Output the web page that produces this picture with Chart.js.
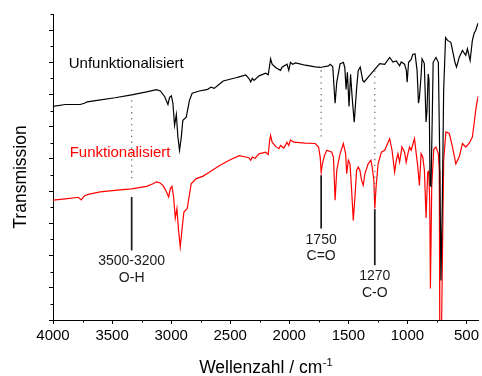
<!DOCTYPE html>
<html>
<head>
<meta charset="utf-8">
<script src="https://cdn.jsdelivr.net/npm/chart.js@4"></script>
<style>
  body { margin: 0; background: #fff; }
  canvas { display: block; }
</style>
</head>
<body>
<canvas id="ir" width="482" height="376"></canvas>
<script>
// Wellenzahl (cm-1) und Transmission (willk. Einheiten) der beiden Spektren
var schwarzWn = [4000,3895,3769,3735,3710,3626,3475,3334,3208,3124,
	3091,3055,3027,3013,2998,2985,2971,2956,2943,2929,
	2914,2901,2872,2845,2822,2761,2691,2662,2635,2593,
	2559,2452,2424,2368,2340,2326,2313,2298,2256,2200,
	2178,2166,2158,2145,2116,2074,2061,2019,2004,1990,
	1971,1948,1920,1864,1780,1738,1668,1654,1632,1612,
	1598,1570,1542,1530,1519,1508,1494,1481,1467,1450,
	1430,1416,1399,1378,1366,1332,1276,1234,1192,1150,
	1122,1094,1066,1052,1024,1009,1002,990,968,954,
	935,918,906,898,884,876,857,842,834,824,
	817,808,800,790,782,758,738,727,716,704,
	693,677,660,632,618,598,584,561,534,506,
	492,469,450,435,422,408,400];
var schwarzT = [66.3,66.9,66.9,67.3,67.7,68.2,69.0,69.9,70.8,71.5,
	71.1,69.4,66.9,69.1,69.6,67.3,60.4,63.8,57.0,52.7,
	56.7,62.0,63.0,68.2,70.4,71.1,71.6,72.3,71.9,73.2,
	74.2,75.2,75.5,76.1,74.9,73.9,75.0,74.4,75.8,76.6,
	76.1,79.1,81.1,79.4,78.4,77.5,78.5,79.4,77.5,80.0,
	79.4,79.8,79.6,79.1,78.6,78.4,78.9,79.4,78.7,67.3,
	73.8,79.5,80.0,78.4,71.6,76.9,66.3,76.3,68.8,61.4,
	71.9,77.5,78.5,74.4,73.9,75.4,77.8,79.6,79.4,81.5,
	80.1,80.4,78.9,80.1,79.4,77.5,73.8,80.0,80.9,82.5,
	82.6,77.5,67.3,69.2,75.9,81.1,79.7,61.5,65.1,76.4,
	74.4,41.8,41.5,62.0,80.0,81.5,80.0,52.7,12.3,37.2,
	71.3,87.7,86.8,86.2,83.7,80.1,78.5,81.6,83.7,82.2,
	84.2,80.6,86.8,89.0,89.9,91.5,92.2];

var rotWn = [4000,3895,3786,3760,3735,3702,3601,3433,3334,3208,
	3153,3124,3097,3069,3040,3021,3007,2993,2979,2965,
	2951,2937,2923,2909,2892,2864,2830,2788,2733,2677,
	2593,2508,2424,2368,2340,2326,2313,2290,2256,2200,
	2178,2166,2158,2145,2116,2088,2074,2046,2019,2004,
	1990,1962,1864,1780,1752,1738,1730,1719,1702,1682,
	1640,1626,1612,1598,1570,1542,1523,1514,1500,1486,
	1472,1458,1444,1430,1416,1402,1388,1374,1360,1332,
	1309,1298,1284,1276,1265,1248,1220,1192,1150,1130,
	1108,1094,1080,1066,1046,1024,1010,996,982,968,
	940,912,898,884,870,856,842,828,819,811,
	805,794,777,758,738,730,726,711,693,674,
	645,618,590,561,534,506,478,450,435,422,
	408,400];
var rotT = [37.2,37.6,38.1,37.3,38.5,39.0,39.8,40.4,40.7,41.5,
	42.3,42.9,42.6,41.8,39.8,38.2,40.8,41.5,38.2,31.6,
	34.6,27.8,22.7,27.8,33.5,34.6,42.3,43.9,44.6,45.9,
	47.9,49.6,51.0,50.6,50.3,49.6,50.6,50.2,51.6,52.1,
	51.4,55.8,57.3,55.2,53.9,53.2,54.2,53.4,55.2,54.2,
	55.9,55.2,54.9,54.8,53.7,50.5,45.8,48.5,51.1,52.7,
	52.1,50.5,37.2,46.5,51.6,54.8,51.6,45.4,49.6,48.5,
	40.3,30.9,38.2,46.5,47.5,46.5,43.4,41.8,45.4,48.5,
	49.6,47.5,43.4,34.6,41.3,48.5,52.1,52.7,56.3,52.7,
	45.9,49.6,51.6,49.0,53.7,52.1,49.0,51.6,53.7,52.7,
	56.3,47.5,41.8,51.6,50.6,46.5,31.7,45.8,46.2,37.2,
	9.8,41.2,53.0,53.7,51.6,46.5,-3,-3,49.6,58.4,
	57.9,53.7,48.5,50.7,54.8,53.7,54.8,56.8,61.0,65.1,
	68.2,69.5];

var xTicks = [4000,3500,3000,2500,2000,1500,1000,500];
var yTicks = [0,10,20,30,40,50,60,70,80,90];
var xMinorTicks = [3750,3250,2750,2250,1750,1250,750];
var yMinorTicks = [5,15,25,35,45,55,65,75,85,95];

// Banden-Markierungen
var bandWn = [3334, 1730, 1276];
var bandZeile1 = ['3500-3200', '1750', '1270'];
var bandZeile2 = ['O-H', 'C=O', 'C-O'];
var punktVon = [68.2, 77.5, 77.5];
var punktBis = [43.4, 56.8, 37.2];
var strichVon = [38.2, 44.9, 34.4];
var strichBis = [21.6, 28.4, 17.0];
var textY1 = [18.2, 24.9, 13.6];
var textY2 = [13.1, 19.8, 8.4];

var schrift = "'Liberation Sans', Arial, sans-serif";
Chart.defaults.font.family = schrift;

var beschriftung = {
	id: 'beschriftung',
	afterDraw: (chart) => {
		var ctx = chart.ctx;
		var x = chart.scales.x;
		var y = chart.scales.y;
		var area = chart.chartArea;
		ctx.save();

		// kleine Striche
		ctx.strokeStyle = '#000';
		ctx.lineWidth = 1;
		ctx.beginPath();
		xMinorTicks.forEach(v => {
			var px = Math.round(x.getPixelForValue(v)) + 0.5;
			ctx.moveTo(px, area.bottom);
			ctx.lineTo(px, area.bottom + 2.5);
		});
		yMinorTicks.forEach(v => {
			var py = Math.round(y.getPixelForValue(v)) + 0.5;
			ctx.moveTo(area.left, py);
			ctx.lineTo(area.left - 2.5, py);
		});
		ctx.stroke();

		// gepunktete Linien
		ctx.strokeStyle = '#666';
		ctx.lineWidth = 1.2;
		ctx.setLineDash([1.3, 4.6]);
		bandWn.forEach((wn, i) => {
			var px = x.getPixelForValue(wn);
			ctx.beginPath();
			ctx.moveTo(px, y.getPixelForValue(punktVon[i]));
			ctx.lineTo(px, y.getPixelForValue(punktBis[i]));
			ctx.stroke();
		});

		// durchgezogene Linien
		ctx.setLineDash([]);
		ctx.strokeStyle = '#1a1a1a';
		ctx.lineWidth = 1.7;
		bandWn.forEach((wn, i) => {
			var px = x.getPixelForValue(wn);
			ctx.beginPath();
			ctx.moveTo(px, y.getPixelForValue(strichVon[i]));
			ctx.lineTo(px, y.getPixelForValue(strichBis[i]));
			ctx.stroke();
		});

		// Bandentexte
		ctx.fillStyle = '#1a1a1a';
		ctx.font = '14px ' + schrift;
		ctx.textAlign = 'center';
		ctx.textBaseline = 'middle';
		bandWn.forEach((wn, i) => {
			var px = x.getPixelForValue(wn);
			ctx.fillText(bandZeile1[i], px, y.getPixelForValue(textY1[i]));
			ctx.fillText(bandZeile2[i], px, y.getPixelForValue(textY2[i]));
		});

		// Kurvenbeschriftung
		ctx.font = '15px ' + schrift;
		ctx.textAlign = 'left';
		ctx.textBaseline = 'alphabetic';
		ctx.fillStyle = '#000';
		ctx.fillText('Unfunktionalisiert', x.getPixelForValue(3867), y.getPixelForValue(78.1));
		ctx.fillStyle = '#ff0000';
		ctx.fillText('Funktionalisiert', x.getPixelForValue(3859), y.getPixelForValue(50.7));

		// Achsentitel
		ctx.fillStyle = '#000';
		ctx.font = '17.5px ' + schrift;
		var haupt = 'Wellenzahl / cm';
		var w1 = ctx.measureText(haupt).width;
		ctx.font = '11px ' + schrift;
		var w2 = ctx.measureText('-1').width;
		var start = (area.left + area.right) / 2 - (w1 + w2) / 2;
		ctx.font = '17.5px ' + schrift;
		ctx.fillText(haupt, start, 373);
		ctx.font = '11px ' + schrift;
		ctx.fillText('-1', start + w1 + 0.5, 366);

		ctx.font = '17.5px ' + schrift;
		ctx.translate(26, 177);
		ctx.rotate(-Math.PI / 2);
		ctx.textAlign = 'center';
		ctx.fillText('Transmission', 0, 0);
		ctx.restore();
	}
};

var spektrum = new Chart(document.getElementById('ir').getContext('2d'), {
	type: 'line',
	data: {
		datasets: [
			{
				label: 'Unfunktionalisiert',
				data: schwarzWn.map((w, i) => ({ x: w, y: schwarzT[i] })),
				borderColor: '#000',
				borderWidth: 1.2,
				pointRadius: 0,
				tension: 0
			},
			{
				label: 'Funktionalisiert',
				data: rotWn.map((w, i) => ({ x: w, y: rotT[i] })),
				borderColor: '#ff0000',
				borderWidth: 1.2,
				pointRadius: 0,
				tension: 0
			}
		]
	},
	options: {
		responsive: false,
		animation: false,
		layout: { padding: { top: 14, right: 1, left: 0, bottom: 0 } },
		plugins: {
			legend: { display: false },
			tooltip: { enabled: false }
		},
		scales: {
			x: {
				type: 'linear',
				reverse: true,
				min: 400,
				max: 4000,
				afterBuildTicks: (s) => { s.ticks = xTicks.map(v => ({ value: v })); },
				afterFit: (s) => { s.height = 56; },
				grid: { drawOnChartArea: false, drawTicks: true, tickLength: 4, color: '#000' },
				border: { display: true, color: '#000', width: 1 },
				ticks: {
					color: '#000',
					font: { size: 15 },
					padding: 3,
					maxRotation: 0,
					autoSkip: false,
					callback: (v) => String(v)
				}
			},
			y: {
				type: 'linear',
				min: 0,
				max: 95,
				afterBuildTicks: (s) => { s.ticks = yTicks.map(v => ({ value: v })); },
				afterFit: (s) => { s.width = 53; },
				grid: { drawOnChartArea: false, drawTicks: true, tickLength: 4, color: '#000' },
				border: { display: true, color: '#000', width: 1 },
				ticks: { display: false }
			}
		}
	},
	plugins: [beschriftung]
});
</script>
</body>
</html>
